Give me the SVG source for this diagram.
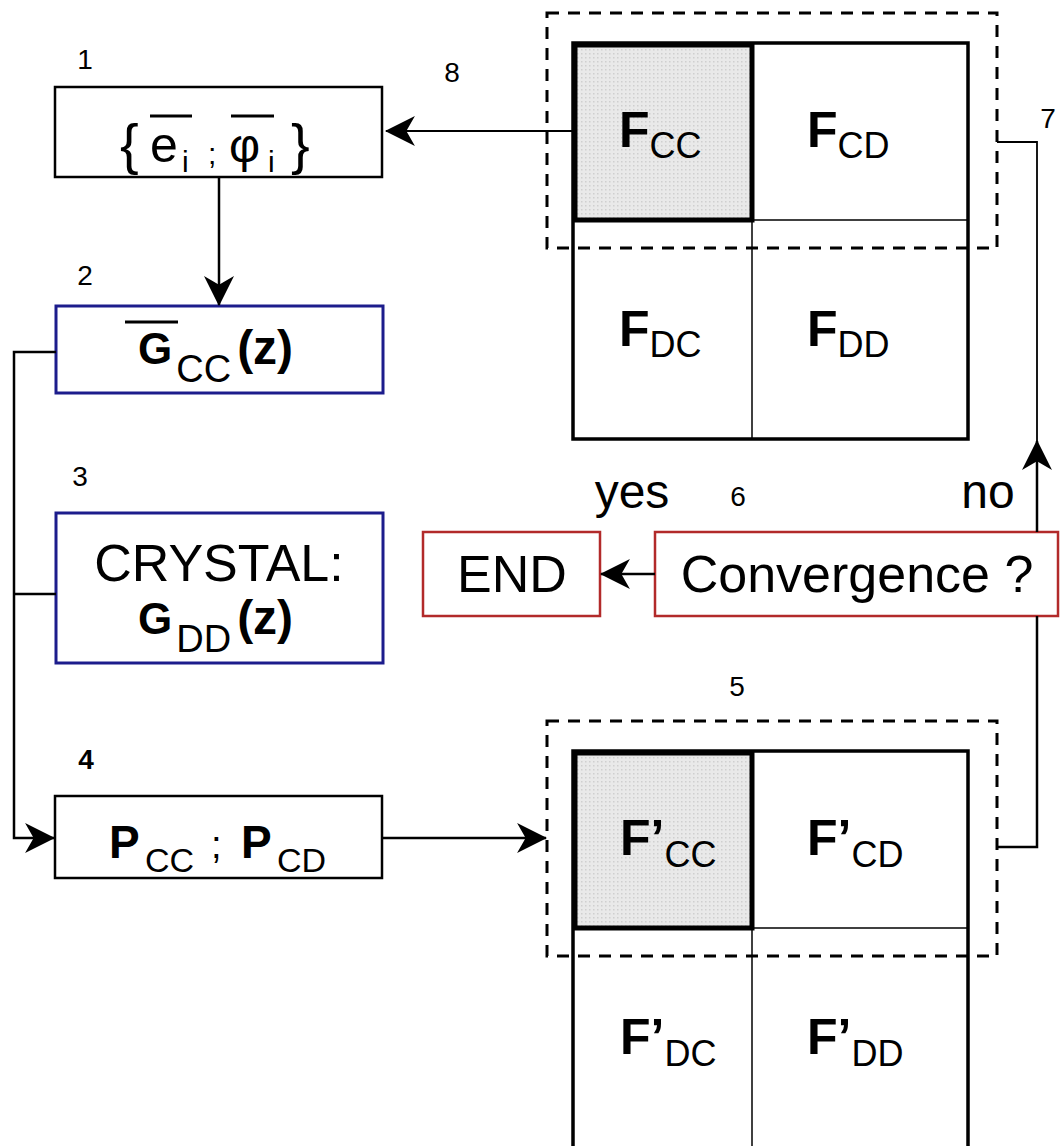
<svg xmlns="http://www.w3.org/2000/svg" width="1061" height="1146" viewBox="0 0 1061 1146">
<defs>
<marker id="ah" markerUnits="userSpaceOnUse" markerWidth="30" markerHeight="30" viewBox="0 0 28 28" refX="27" refY="14" orient="auto">
<path d="M28,14 L0,0 L8,14 L0,28 Z" fill="#000"/>
</marker>
<pattern id="dots" width="4" height="4" patternUnits="userSpaceOnUse">
<rect width="4" height="4" fill="#e9e9e9"/>
<rect x="1" y="1" width="1.5" height="1.5" fill="#cfcfcf"/>
</pattern>
</defs>
<style>
text{font-family:"Liberation Sans",Arial,sans-serif;fill:#000}
.lbl{font-size:28px}
.box{fill:#fff;stroke:#000;stroke-width:2.5}
.blue{fill:#fff;stroke:#1c1c8c;stroke-width:3}
.red{fill:#fff;stroke:#b22a2a;stroke-width:2.5}
.dash{fill:none;stroke:#000;stroke-width:3;stroke-dasharray:12 9}
.outer{fill:none;stroke:#000;stroke-width:3.5}
.thin{fill:none;stroke:#000;stroke-width:1.5}
.cell{fill:url(#dots);stroke:#000;stroke-width:5}
.bigF{font-size:50px;font-weight:bold}
.fsub{font-size:36px}
.conn{fill:none;stroke:#000;stroke-width:2.5}
.connT{fill:none;stroke:#000;stroke-width:1.8}
.ov{stroke:#000;stroke-width:3}
.gb{font-weight:bold}
</style>

<g id="labels">
<text class="lbl" x="85" y="69" text-anchor="middle">1</text>
<text class="lbl" x="85" y="285" text-anchor="middle">2</text>
<text class="lbl" x="80" y="486" text-anchor="middle">3</text>
<text class="lbl" x="86" y="769" text-anchor="middle" font-weight="bold">4</text>
<text class="lbl" x="737" y="696" text-anchor="middle">5</text>
<text class="lbl" x="738" y="506" text-anchor="middle">6</text>
<text class="lbl" x="1048" y="128" text-anchor="middle">7</text>
<text class="lbl" x="452" y="82" text-anchor="middle">8</text>
<text x="632" y="508" font-size="48" text-anchor="middle">yes</text>
<text x="988" y="508" font-size="48" text-anchor="middle">no</text>
</g>

<g id="node1">
<rect class="box" x="55" y="87" width="327" height="90"/>
<text x="120" y="163" font-size="56">{</text>
<text x="150" y="162" font-size="50">e</text>
<text x="182" y="172" font-size="30">i</text>
<text x="208" y="164" font-size="30">;</text>
<text x="229" y="162" font-size="48">φ</text>
<text x="268" y="172" font-size="30">i</text>
<text x="291" y="163" font-size="56">}</text>
<line class="ov" x1="150" y1="116" x2="192" y2="116"/>
<line class="ov" x1="231" y1="116" x2="274" y2="116"/>
</g>

<g id="node2">
<rect class="blue" x="56" y="306" width="327" height="87"/>
<line class="ov" x1="125" y1="322" x2="178" y2="322"/>
<text x="138" y="364"><tspan class="gb" font-size="44">G</tspan><tspan font-size="38" dx="4" dy="18">CC</tspan><tspan class="gb" font-size="48" dx="6" dy="-18">(z)</tspan></text>
</g>

<g id="node3">
<rect class="blue" x="56" y="513" width="327" height="150"/>
<text x="219" y="581" font-size="52" text-anchor="middle">CRYSTAL:</text>
<text x="138" y="634"><tspan class="gb" font-size="44">G</tspan><tspan font-size="38" dx="4" dy="18">DD</tspan><tspan class="gb" font-size="48" dx="6" dy="-18">(z)</tspan></text>
</g>

<g id="node4">
<rect class="box" x="55" y="796" width="327" height="82"/>
<text x="109" y="858" font-size="46" font-weight="bold">P</text>
<text x="145" y="872" font-size="34">CC</text>
<text x="211" y="858" font-size="38">;</text>
<text x="241" y="858" font-size="46" font-weight="bold">P</text>
<text x="277" y="872" font-size="34">CD</text>
</g>

<g id="node6">
<rect class="red" x="655" y="532" width="403" height="84"/>
<text x="857" y="592" font-size="52" text-anchor="middle">Convergence ?</text>
</g>

<g id="nodeEnd">
<rect class="red" x="423" y="532" width="177" height="84"/>
<text x="512" y="592" font-size="52" text-anchor="middle">END</text>
</g>

<g id="matrixF">
<rect fill="#fff" x="573" y="43" width="395" height="396"/>
<line class="thin" x1="752" y1="43" x2="752" y2="439"/>
<line class="thin" x1="573" y1="220" x2="968" y2="220"/>
<rect class="cell" x="575" y="45" width="177" height="175"/>
<rect class="outer" x="573" y="43" width="395" height="396"/>
<text x="619" y="147"><tspan class="bigF">F</tspan><tspan class="fsub" dy="11">CC</tspan></text>
<text x="807" y="147"><tspan class="bigF">F</tspan><tspan class="fsub" dy="11">CD</tspan></text>
<text x="619" y="346"><tspan class="bigF">F</tspan><tspan class="fsub" dy="11">DC</tspan></text>
<text x="807" y="346"><tspan class="bigF">F</tspan><tspan class="fsub" dy="11">DD</tspan></text>
<rect class="dash" x="547" y="13" width="450" height="235"/>
</g>

<g id="matrixFp">
<rect fill="#fff" x="573" y="751" width="395" height="400"/>
<line class="thin" x1="752" y1="751" x2="752" y2="1150"/>
<line class="thin" x1="573" y1="928" x2="968" y2="928"/>
<rect class="cell" x="575" y="753" width="177" height="175"/>
<path class="outer" d="M573,1150 V751 H968 V1150"/>
<text x="620" y="855"><tspan class="bigF">F’</tspan><tspan class="fsub" dy="12">CC</tspan></text>
<text x="807" y="855"><tspan class="bigF">F’</tspan><tspan class="fsub" dy="12">CD</tspan></text>
<text x="620" y="1054"><tspan class="bigF">F’</tspan><tspan class="fsub" dy="12">DC</tspan></text>
<text x="807" y="1054"><tspan class="bigF">F’</tspan><tspan class="fsub" dy="12">DD</tspan></text>
<rect class="dash" x="547" y="721" width="450" height="235"/>
</g>

<g id="connectors">
<line class="connT" x1="573" y1="131" x2="386" y2="131" marker-end="url(#ah)"/>
<line class="conn" x1="219" y1="177" x2="219" y2="305" marker-end="url(#ah)"/>
<polyline class="conn" points="56,352 14,352 14,838 54,838" marker-end="url(#ah)"/>
<line class="conn" x1="14" y1="594" x2="56" y2="594"/>
<line class="conn" x1="382" y1="838" x2="546" y2="838" marker-end="url(#ah)"/>
<polyline class="conn" points="997,847 1037,847 1037,616"/>
<line class="conn" x1="1037" y1="532" x2="1037" y2="441" marker-end="url(#ah)"/>
<polyline class="connT" points="1037,450 1037,142 997,142"/>
<line class="conn" x1="655" y1="574" x2="601" y2="574" marker-end="url(#ah)"/>
</g>
</svg>
